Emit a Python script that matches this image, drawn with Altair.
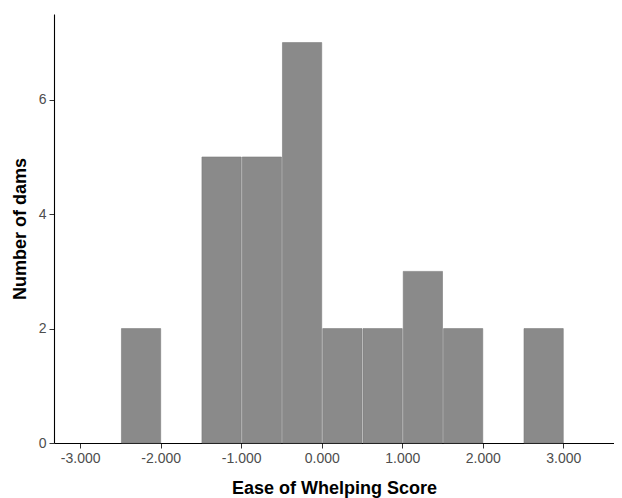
import altair as alt
import pandas as pd

bin_start = [-2.5, -1.5, -1.0, -0.5, 0.0, 0.5, 1.0, 1.5, 2.5]
bin_end = [-2.0, -1.0, -0.5, 0.0, 0.5, 1.0, 1.5, 2.0, 3.0]
counts = [2, 5, 5, 7, 2, 2, 3, 2, 2]
x_ticks = [-3, -2, -1, 0, 1, 2, 3]
y_ticks = [0, 2, 4, 6]

df = pd.DataFrame({"start": bin_start, "end": bin_end, "count": counts})

chart = alt.Chart(df).mark_bar(
    color="#8a8a8a", stroke="#7a7a7a", strokeWidth=0.6, binSpacing=1
).encode(
    x=alt.X("start:Q", bin="binned",
            scale=alt.Scale(domain=[-3.325, 3.63], nice=False, zero=False),
            axis=alt.Axis(values=x_ticks, title="Ease of Whelping Score",
                          labelExpr="replace(format(datum.value, '.3f'), '\u2212', '-')",
                          titlePadding=14)),
    x2="end:Q",
    y=alt.Y("count:Q", scale=alt.Scale(domain=[0, 7.5], nice=False),
            axis=alt.Axis(values=y_ticks, title="Number of dams", titlePadding=9)),
).properties(
    width=560, height=429,
    autosize=alt.AutoSizeParams(type="none"),
    padding={"left": 46, "top": 6, "right": 0, "bottom": 55},
).configure_view(stroke=None).configure_axis(
    grid=False, domainColor="#000000", domainWidth=1.1, tickColor="#333333",
    tickSize=5, tickWidth=1, labelPadding=3, labelFont="Liberation Sans",
    labelFontSize=14, labelColor="#4d4d4d", titleFont="Liberation Sans",
    titleFontSize=18, titleFontWeight="bold", titleColor="#000000",
)

chart.save("out.html", embed_options={"renderer": "svg", "actions": False})
